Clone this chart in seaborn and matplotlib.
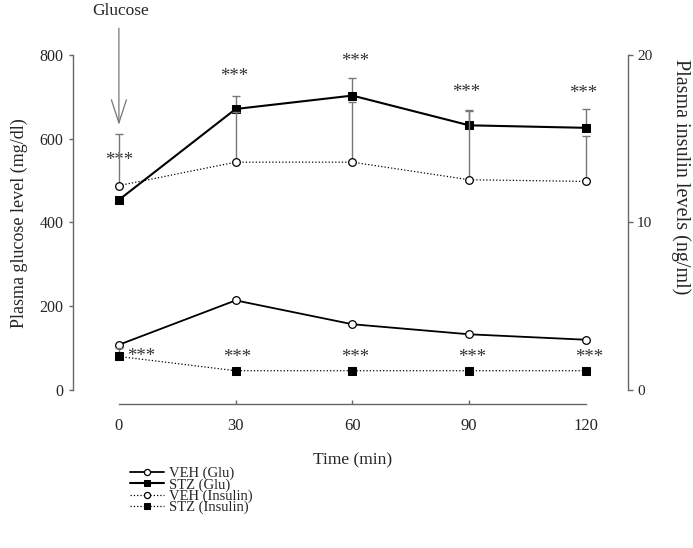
import numpy as np
import pandas as pd
import seaborn as sns
import matplotlib.pyplot as plt

# values
time = [0, 30, 60, 90, 120]
veh_glu = [108, 214, 157, 133, 120]
stz_glu = [454, 671, 703, 632, 626]
stz_glu_err = [0, 32, 42, 37, 46]
veh_ins = [12.2, 13.6, 13.6, 12.55, 12.45]
veh_ins_err = [3.1, 3.0, 3.6, 4.1, 2.7]
stz_ins = [2.0, 1.15, 1.15, 1.15, 1.15]
stz_ins_err = [0.5, 0, 0, 0, 0]
labels = ['VEH (Glu)', 'STZ (Glu)', 'VEH (Insulin)', 'STZ (Insulin)']
glu_ticks = [0, 200, 400, 600, 800]
ins_ticks = [0, 10, 20]

# significance marks
star_top_x = [0, 29.5, 60.8, 89.3, 119.4]
star_top_y = [556, 757, 793, 719, 716]
star_low_x = [5.6, 30.3, 60.7, 90.7, 120.8]
star_low_y = [89, 86, 86, 86, 86]

sns.set_style('ticks')
plt.rcParams['font.family'] = ['Liberation Serif', 'DejaVu Serif']

fig = plt.figure(figsize=(6.93, 5.48), dpi=100)
ax = fig.add_axes([0.1053, 0.2628, 0.8009, 0.6369])
ax2 = ax.twinx()

spine_col = '#666666'
err_col = '#777777'


def up_err(axis, x, y, e):
    x = np.array(x)
    y = np.array(y)
    e = np.array(e)
    m = e > 0
    axis.errorbar(x[m], y[m], yerr=[np.zeros(m.sum()), e[m]], fmt='none',
                  ecolor=err_col, elinewidth=1, capsize=2.6, capthick=1, zorder=1)


up_err(ax, time, stz_glu, stz_glu_err)
up_err(ax2, time, veh_ins, veh_ins_err)
up_err(ax2, time, stz_ins, stz_ins_err)

sns.lineplot(x=time, y=veh_glu, ax=ax, color='black', lw=1.3, marker='o', ms=5.5,
             mfc='white', mec='black', mew=0.9, label=labels[0], zorder=3)
sns.lineplot(x=time, y=stz_glu, ax=ax, color='black', lw=1.5, marker='s', ms=5.5,
             mfc='black', mec='black', label=labels[1], zorder=3)
sns.lineplot(x=time, y=veh_ins, ax=ax2, color='black', lw=0.9, linestyle=':', marker='o',
             ms=5.5, mfc='white', mec='black', mew=0.9, label=labels[2], zorder=3)
sns.lineplot(x=time, y=stz_ins, ax=ax2, color='black', lw=0.9, linestyle=':', marker='s',
             ms=5.5, mfc='black', mec='black', label=labels[3], zorder=3)

h1, l1 = ax.get_legend_handles_labels()
h2, l2 = ax2.get_legend_handles_labels()
for a in (ax, ax2):
    if a.get_legend() is not None:
        a.get_legend().remove()

ax.set_xlim(-11.8, 130.8)
ax.set_ylim(-33.4, 800)
ax2.set_ylim(-0.836, 20)

ax.set_xticks(time)
ax.set_xticklabels([str(t) for t in time], fontsize=12)
ax.set_yticks(glu_ticks)
ax.set_yticklabels([str(t) for t in glu_ticks], fontsize=11.5)
ax2.set_yticks(ins_ticks)
ax2.set_yticklabels([str(t) for t in ins_ticks], fontsize=11)

for s in ('top', 'right'):
    ax.spines[s].set_visible(False)
for s in ('top', 'left', 'bottom'):
    ax2.spines[s].set_visible(False)
ax.spines['left'].set_bounds(0, 800)
ax.spines['bottom'].set_bounds(0, 120)
ax2.spines['right'].set_bounds(0, 20)
for sp in (ax.spines['left'], ax.spines['bottom'], ax2.spines['right']):
    sp.set_color(spine_col)
    sp.set_linewidth(1)

ax.tick_params(axis='x', direction='in', length=3, width=1, color=spine_col, pad=10)
ax.tick_params(axis='y', direction='out', length=3.2, width=1, color=spine_col, pad=3.6)
ax2.tick_params(axis='y', direction='out', length=3.6, width=1, color=spine_col, pad=2.9)
xt = ax.xaxis.get_major_ticks()
xt[0].tick1line.set_visible(False)
xt[-1].tick1line.set_visible(False)

ax.set_xlabel('Time (min)', fontsize=12.5)
ax.xaxis.set_label_coords(0.503, -0.14)
ax.set_ylabel('Plasma glucose level (mg/dl)', fontsize=13, va='center')
ax.yaxis.set_label_coords(-0.097, 0.519)
ax2.set_ylabel('Plasma insulin levels (ng/ml)', fontsize=14.5, rotation=270, va='center')
ax2.yaxis.set_label_coords(1.095, 0.65)

for x, y in zip(star_top_x, star_top_y):
    ax.text(x, y - 8, '***', ha='center', va='center', fontsize=13.5, color='#333333')
for x, y in zip(star_low_x, star_low_y):
    ax.text(x, y - 8, '***', ha='center', va='center', fontsize=13.5, color='#333333')

ax.annotate('', xy=(0, 633), xytext=(0, 864), annotation_clip=False,
            arrowprops=dict(arrowstyle='->,head_length=0.83,head_width=0.27',
                            mutation_scale=20, color=err_col, lw=0.9,
                            shrinkA=0, shrinkB=0))
ax.text(0.5, 905, 'Glucose', ha='center', va='center', fontsize=12.5, clip_on=False)

fig.legend(h1 + h2, l1 + l2, loc='upper left', bbox_to_anchor=(0.1876, 1 - 467 / 548),
           frameon=False, fontsize=10.5, labelspacing=-0.16, handlelength=2.3,
           handletextpad=0.4, borderpad=0, borderaxespad=0, markerscale=0.8)

fig.savefig('out.png', dpi=100)
